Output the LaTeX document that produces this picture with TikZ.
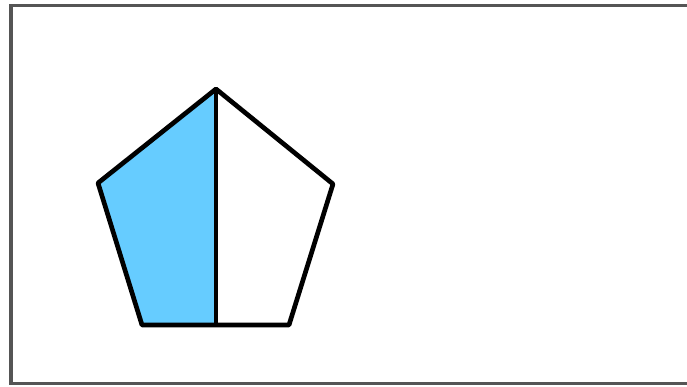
\documentclass[tikz,border=0pt]{standalone}
\usepackage{xcolor}
\definecolor{halfblue}{HTML}{66CCFF}
\definecolor{framegray}{HTML}{555555}
\begin{document}
\begin{tikzpicture}[x=0.03cm, y=-0.03cm]
        \tikzset{
            frame/.style={draw=framegray, line width=2.6pt},
            edge/.style={draw=black, line width=4pt, line join=round},
            half/.style={fill=halfblue}
        }
        \useasboundingbox (0,0) rectangle (687,387);

        % outer frame, right side runs off the picture
        \begin{scope}
            \clip (0,0) rectangle (687,387);
            \draw[frame] (11,5.5) rectangle (695,383.5);
        \end{scope}

        \coordinate (top) at (216,89);
        \coordinate (left) at (98,183);
        \coordinate (right) at (333,184);
        \coordinate (botleft) at (142,325);
        \coordinate (botright) at (289,325);
        \coordinate (botmid) at (216,325);

        \fill[half] (top) -- (left) -- (botleft) -- (botmid) -- cycle;
        \draw[edge] (top) -- (right) -- (botright) -- (botleft) -- (left) -- cycle;
        \draw[edge] (top) -- (botmid);
    \end{tikzpicture}
\end{document}
